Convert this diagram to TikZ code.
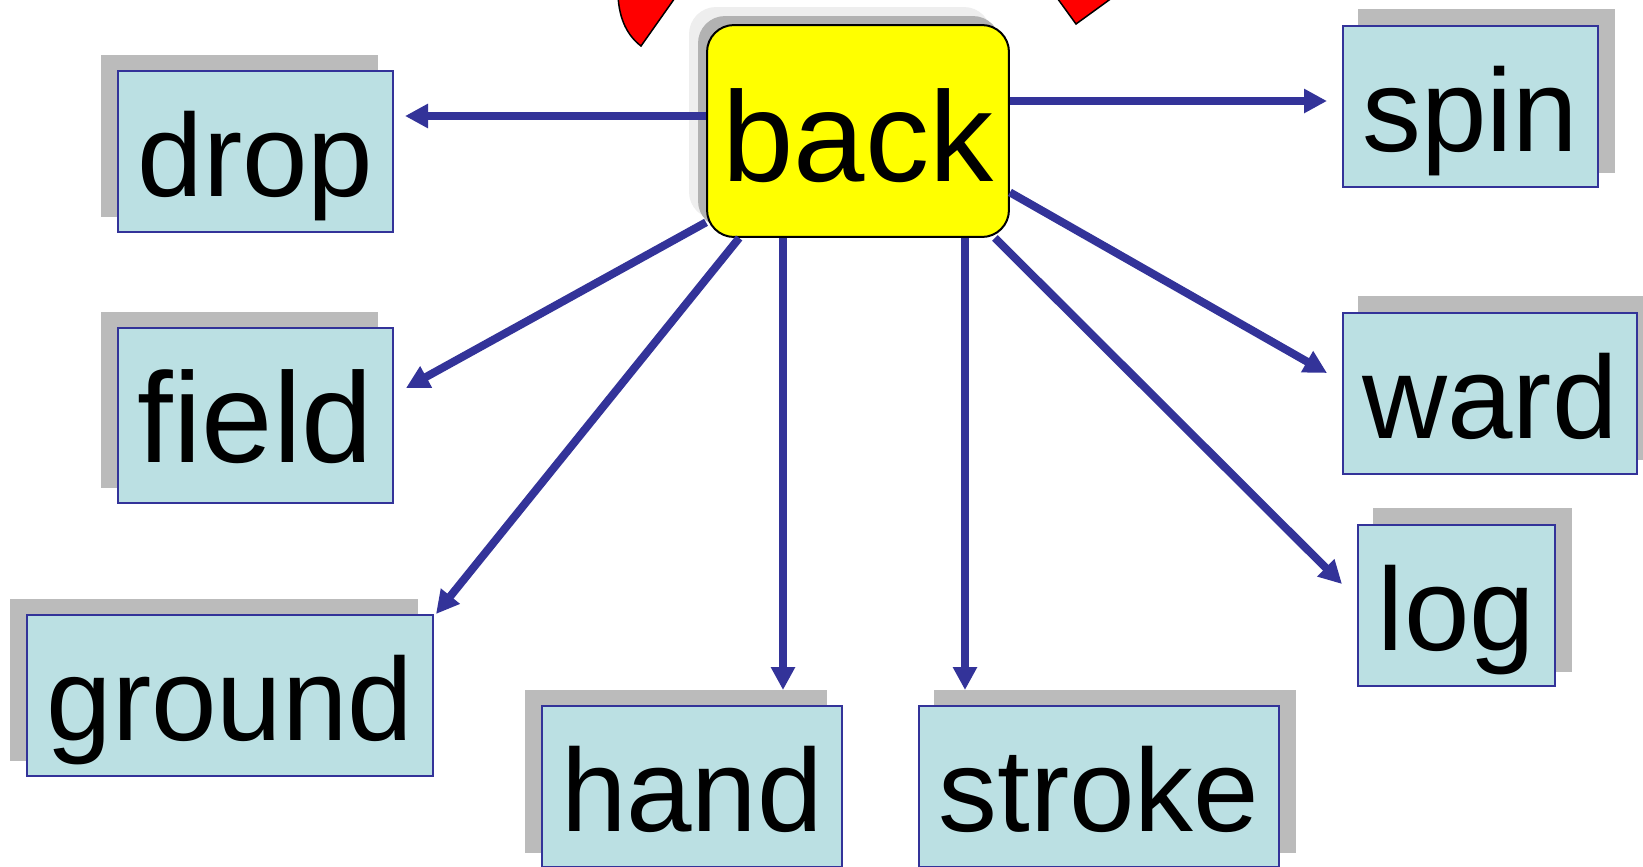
\documentclass[tikz,border=0pt]{standalone}
\usepackage{fontspec}
\setmainfont{Liberation Sans}
\usetikzlibrary{arrows.meta}
\usetikzlibrary{shadows}
\definecolor{linkblue}{HTML}{333399}
\definecolor{boxcyan}{HTML}{BBE0E3}
\definecolor{boxyellow}{HTML}{FFFF00}
\definecolor{petalred}{HTML}{FF0000}
\definecolor{shadegray}{HTML}{BBBBBB}
\definecolor{shadedark}{HTML}{B2B2B2}
\definecolor{shadelight}{HTML}{EEEEEE}
\tikzset{
  word/.style={inner sep=0pt,text height=62pt,text depth=11pt,font=\fontsize{67}{72}\selectfont},
  wordbox/.style={word,draw=linkblue,line width=0.04cm,fill=boxcyan},
  leftshade/.style={wordbox,general shadow={shadow xshift=-0.32cm,shadow yshift=0.31cm,fill=shadegray,draw=shadegray,line width=0.04cm}},
  rightshade/.style={wordbox,general shadow={shadow xshift=0.32cm,shadow yshift=0.31cm,fill=shadegray,draw=shadegray,line width=0.04cm}},
  link/.style={draw=linkblue,line width=0.16cm,-{Triangle[length=0.46cm,width=0.46cm]}},
  petal/.style={draw=black,line width=0.03cm,fill=petalred}
}
\begin{document}
\begin{tikzpicture}[x=0.02cm,y=-0.02cm]
 \useasboundingbox (0,0) rectangle (1643,866);
 \fill[white] (0,0) rectangle (1643,866);
 \draw[petal](618,-5) .. controls (619,20) and (628,36) .. (641,46)--(677,-5);
 \draw[petal](1055,-5)--(1076,24)--(1116,-5);
 % boxes on the left
 \node[leftshade,minimum width=5.5cm,minimum height=3.22cm] (drop) at (255.5,151.5) {drop};
 \node[leftshade,text height=65pt,font=\fontsize{73}{80}\selectfont,minimum width=5.5cm,minimum height=3.5cm] (field) at (255.5,415.5) {field};
 \node[leftshade,minimum width=8.12cm,minimum height=3.22cm] (ground) at (230,695.5) {ground};
 \node[leftshade,minimum width=6cm,minimum height=3.22cm] (hand) at (692,786.5) {hand};
 % boxes on the right
 \node[rightshade,minimum width=7.2cm,minimum height=3.22cm] (stroke) at (1099,786.5) {stroke};
 \node[rightshade,minimum width=5.12cm,minimum height=3.24cm] (spin) at (1470.5,106.5) {spin};
 \node[rightshade,minimum width=5.9cm,minimum height=3.24cm] (ward) at (1490,393.5) {ward};
 \node[rightshade,minimum width=3.94cm,minimum height=3.24cm] (log) at (1456.5,605.5) {log};
 % the middle one
 \node[word,text height=69pt,font=\fontsize{73}{80}\selectfont,draw=black,line width=0.04cm,fill=boxyellow,rounded corners=0.54cm,
   minimum width=6.04cm,minimum height=4.24cm,
   general shadow={shadow xshift=-0.36cm,shadow yshift=0.36cm,fill=shadelight},
   general shadow={shadow xshift=-0.18cm,shadow yshift=0.18cm,fill=shadedark}] (back) at (858,131) {back};
 % free ends
 \coordinate (dropend) at (405,116);
 \coordinate (fieldend) at (406,388);
 \coordinate (groundend) at (436,614);
 \coordinate (handend) at (783,690);
 \coordinate (strokeend) at (965,690);
 \coordinate (logend) at (1342,584);
 \coordinate (wardend) at (1327,373);
 \coordinate (spinend) at (1327,101);
 \draw[link](back.west |- dropend)--(dropend);
 \draw[link](back.211)--(fieldend);
 \draw[link](back.222.7)--(groundend);
 \draw[link](back.south -| handend)--(handend);
 \draw[link](back.south -| strokeend)--(strokeend);
 \draw[link](back.322.1)--(logend);
 \draw[link](back.338)--(wardend);
 \draw[link](back.east |- spinend)--(spinend);
\end{tikzpicture}
\end{document}
